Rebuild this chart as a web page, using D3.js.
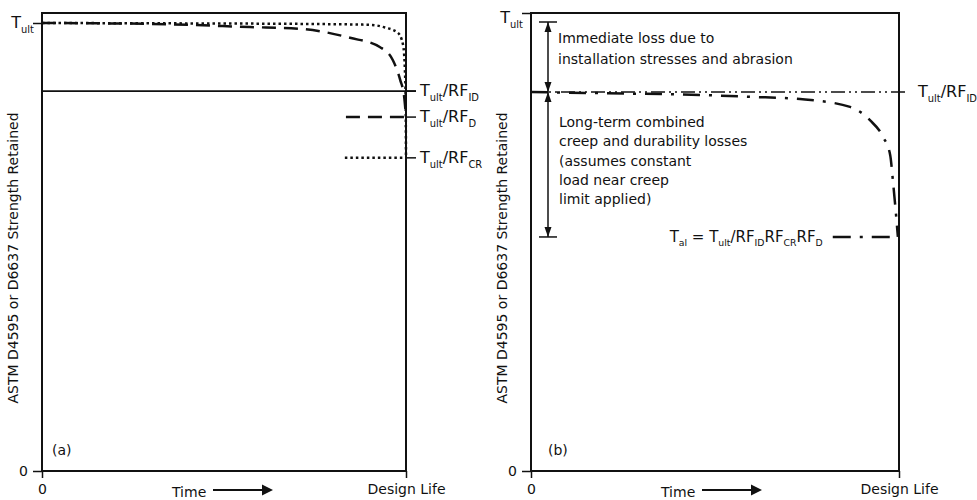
<!DOCTYPE html>
<html>
<head>
<meta charset="utf-8">
<script src="https://cdn.jsdelivr.net/npm/d3@7"></script>
<style>
  body { margin: 0; background: #fff; }
  text { font-family: 'DejaVu Sans', Verdana, sans-serif; fill: #111; }
</style>
</head>
<body>
<div id="chart"></div>
<script>
// time is a fraction of the design life, strength a fraction of T_ult
const timeTicks = ['0', 'Design Life'];
const yTitle = 'ASTM D4595 or D6637 Strength Retained';

// panel (a): reduction factors shown one by one
const levelLabelsA = ['T_{ult}/RF_{ID}', 'T_{ult}/RF_{D}', 'T_{ult}/RF_{CR}'];
const levelValuesA = [0.848, 0.790, 0.699];
const durabilityT = [0, 0.297, 0.571, 0.709, 0.846, 0.929, 0.964, 0.984, 0.995, 1.0];
const durabilityS = [1.0, 0.998, 0.991, 0.987, 0.967, 0.946, 0.917, 0.873, 0.835, 0.790];
const creepT = [0, 0.434, 0.709, 0.901, 0.942, 0.978, 0.992, 0.997, 0.999, 1.0];
const creepS = [1.0, 0.999, 0.998, 0.996, 0.990, 0.978, 0.951, 0.895, 0.830, 0.699];
const levelStartA = [0.835, 0.832]; // start of the short D and CR level marks

// panel (b): combined
const levelValuesB = [0.8275, 0.511];
const combinedT = [0, 0.1875, 0.459, 0.595, 0.731, 0.867, 0.921, 0.957, 0.976, 0.984, 0.992, 0.997];
const combinedS = [0.8275, 0.825, 0.821, 0.817, 0.812, 0.795, 0.766, 0.729, 0.690, 0.629, 0.559, 0.511];
const alStart = 0.82;
const immediateText = ['Immediate loss due to', 'installation stresses and abrasion'];
const longTermText = ['Long-term combined', 'creep and durability losses', '(assumes constant', 'load near creep', 'limit applied)'];

const width = 977, height = 500;
const frameTop = 13;

const svg = d3.select('#chart').append('svg')
    .attr('width', width)
    .attr('height', height);

// text with _{...} parts set as subscripts
function richText(g, str, x, y, size, anchor) {
    const t = g.append('text')
        .attr('x', x)
        .attr('y', y)
        .attr('font-size', size)
        .attr('text-anchor', anchor || 'start');
    const bits = str.split(/_\{([^}]*)\}/);
    const shift = size * 0.3;
    let down = false;
    bits.forEach((b, i) => {
        if (!b) return;
        const ts = t.append('tspan').text(b);
        if (i % 2 === 1) {
            ts.attr('font-size', size * 0.62);
            if (!down) ts.attr('dy', shift);
            down = true;
        } else if (down) {
            ts.attr('dy', -shift);
            down = false;
        }
    });
    return t;
}

function drawPanel(x, y, tag, ultOffset) {
    const g = svg.append('g');
    const x0 = x.range()[0], x1 = x.range()[1];

    // axes: only the ticks, frame drawn separately
    const yAxis = g.append('g')
        .attr('transform', `translate(${x0},0)`)
        .call(d3.axisLeft(y).tickValues([0, 1]).tickSize(9).tickPadding(5)
            .tickFormat(d => d === 0 ? '0' : ''));
    const xAxis = g.append('g')
        .attr('transform', `translate(0,${y(0)})`)
        .call(d3.axisBottom(x).tickValues([0, 1]).tickSize(7).tickPadding(6)
            .tickFormat((d, i) => timeTicks[i]));
    [yAxis, xAxis].forEach(a => {
        a.select('.domain').remove();
        a.selectAll('line').attr('stroke', '#111').attr('stroke-width', 1.5);
        a.selectAll('text').attr('font-size', 14).attr('fill', '#111')
            .style('font-family', "'DejaVu Sans', Verdana, sans-serif");
    });

    richText(g, 'T_{ult}', x0 - 8, y(1) + ultOffset, 16, 'end');

    g.append('rect')
        .attr('x', x0)
        .attr('y', frameTop)
        .attr('width', x1 - x0)
        .attr('height', y(0) - frameTop)
        .attr('fill', 'none')
        .attr('stroke', '#111')
        .attr('stroke-width', 2);

    g.append('text')
        .attr('transform', `translate(${x0 - 24},258) rotate(-90)`)
        .attr('text-anchor', 'middle')
        .attr('font-size', 14)
        .text(yTitle);

    g.append('text')
        .attr('x', x0 + 10 + (tag === 'b' ? 7 : 0))
        .attr('y', y(0) - 16)
        .attr('font-size', 14)
        .text(`(${tag})`);

    // Time ---->
    const tx = x0 + 130;
    g.append('text')
        .attr('x', tx)
        .attr('y', 497)
        .attr('font-size', 14)
        .text('Time');
    g.append('line')
        .attr('x1', tx + 41).attr('x2', tx + 222 - 130)
        .attr('y1', 490).attr('y2', 490)
        .attr('stroke', '#111').attr('stroke-width', 2);
    g.append('path')
        .attr('d', `M${tx + 90},484.5 L${tx + 101},490 L${tx + 90},495.5 Z`)
        .attr('fill', '#111');
    return g;
}

// ---- panel (a)
const xA = d3.scaleLinear().domain([0, 1]).range([42, 406]);
const yA = d3.scaleLinear().domain([0, 1]).range([471, 23]);
const gA = drawPanel(xA, yA, 'a', 5);

const lineA = d3.line().x(d => xA(d[0])).y(d => yA(d[1])).curve(d3.curveMonotoneX);

gA.append('line')
    .attr('x1', xA(0)).attr('x2', xA(1) + 10)
    .attr('y1', yA(levelValuesA[0])).attr('y2', yA(levelValuesA[0]))
    .attr('stroke', '#111').attr('stroke-width', 1.8);

levelValuesA.forEach((v, i) => {
    gA.append('line')
        .attr('x1', xA(1)).attr('x2', xA(1) + 10)
        .attr('y1', yA(v)).attr('y2', yA(v))
        .attr('stroke', '#111').attr('stroke-width', 1.5);
    richText(gA, levelLabelsA[i], xA(1) + 14, yA(v) + 5, 16);
});

const styleA = [
    { t: durabilityT, s: durabilityS, dash: '14,8' },
    { t: creepT, s: creepS, dash: '2.5,3' }
];
styleA.forEach((c, i) => {
    gA.append('path')
        .datum(c.t.map((t, j) => [t, c.s[j]]))
        .attr('d', lineA)
        .attr('fill', 'none')
        .attr('stroke', '#111')
        .attr('stroke-width', 2.5)
        .attr('stroke-dasharray', c.dash);
    gA.append('line')
        .attr('x1', xA(levelStartA[i])).attr('x2', xA(1))
        .attr('y1', yA(levelValuesA[i + 1])).attr('y2', yA(levelValuesA[i + 1]))
        .attr('stroke', '#111')
        .attr('stroke-width', 2.5)
        .attr('stroke-dasharray', c.dash);
});

// ---- panel (b)
const xB = d3.scaleLinear().domain([0, 1]).range([531, 899]);
const yB = d3.scaleLinear().domain([0, 1]).range([471, 13]);
const gB = drawPanel(xB, yB, 'b', 10);

const lineB = d3.line().x(d => xB(d[0])).y(d => yB(d[1])).curve(d3.curveMonotoneX);

gB.append('line')
    .attr('x1', xB(0)).attr('x2', xB(1) + 9)
    .attr('y1', yB(levelValuesB[0])).attr('y2', yB(levelValuesB[0]))
    .attr('stroke', '#111').attr('stroke-width', 1.5)
    .attr('stroke-dasharray', '14,4,2,4,2,4');
richText(gB, 'T_{ult}/RF_{ID}', xB(1) + 19, yB(levelValuesB[0]) + 5, 16);

gB.append('path')
    .datum(combinedT.map((t, j) => [t, combinedS[j]]))
    .attr('d', lineB)
    .attr('fill', 'none')
    .attr('stroke', '#111')
    .attr('stroke-width', 2.5)
    .attr('stroke-dasharray', '17,9,3,9');

gB.append('line')
    .attr('x1', xB(alStart)).attr('x2', xB(1))
    .attr('y1', yB(levelValuesB[1])).attr('y2', yB(levelValuesB[1]))
    .attr('stroke', '#111')
    .attr('stroke-width', 2.5)
    .attr('stroke-dasharray', '18,9,3,9');
richText(gB, 'T_{al} = T_{ult}/RF_{ID}RF_{CR}RF_{D}', xB(alStart) - 10, yB(levelValuesB[1]) + 5, 15, 'end');

// dimension arrows
const ax = xB(0) + 17;
function dimension(yFrom, yTo, bars) {
    gB.append('line')
        .attr('x1', ax).attr('x2', ax)
        .attr('y1', yFrom).attr('y2', yTo)
        .attr('stroke', '#111').attr('stroke-width', 1.5);
    gB.append('path')
        .attr('d', `M${ax - 3.5},${yFrom + 10} L${ax},${yFrom} L${ax + 3.5},${yFrom + 10} Z`)
        .attr('fill', '#111');
    gB.append('path')
        .attr('d', `M${ax - 3.5},${yTo - 10} L${ax},${yTo} L${ax + 3.5},${yTo - 10} Z`)
        .attr('fill', '#111');
    bars.forEach(yy => {
        gB.append('line')
            .attr('x1', ax - 9).attr('x2', ax + 9)
            .attr('y1', yy).attr('y2', yy)
            .attr('stroke', '#111').attr('stroke-width', 1.5);
    });
}
dimension(yB(1) + 9, yB(levelValuesB[0]), [yB(1) + 9]);
dimension(yB(levelValuesB[0]), yB(levelValuesB[1]), [yB(levelValuesB[1])]);

immediateText.forEach((s, i) => {
    gB.append('text')
        .attr('x', ax + 10)
        .attr('y', 43 + i * 21)
        .attr('font-size', 14)
        .text(s);
});
longTermText.forEach((s, i) => {
    gB.append('text')
        .attr('x', ax + 11)
        .attr('y', 127 + i * 19.3)
        .attr('font-size', 14)
        .text(s);
});
</script>
</body>
</html>
